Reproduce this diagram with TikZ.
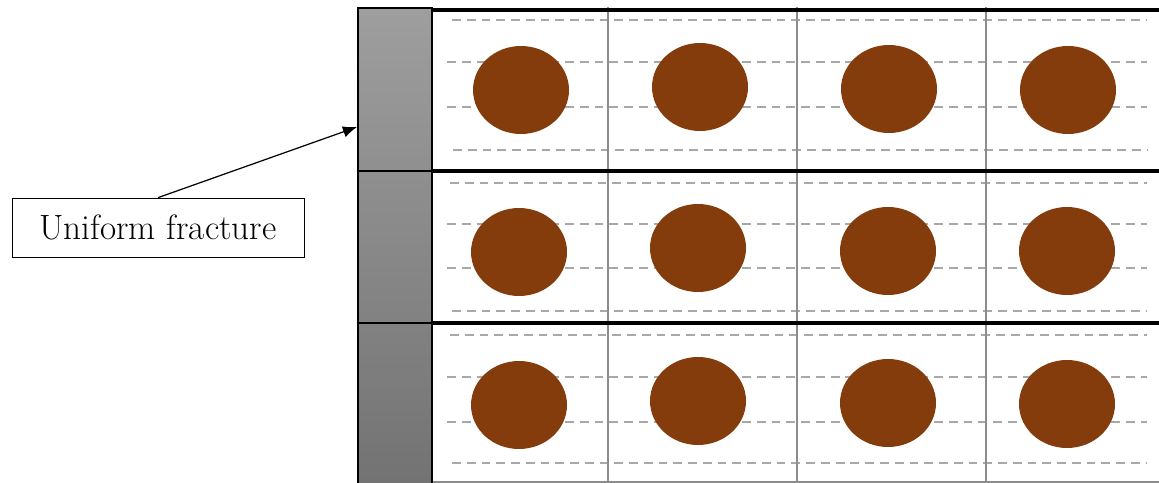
\documentclass[tikz,border=0pt]{standalone}
\usepackage{tikz}
\usetikzlibrary{arrows.meta, positioning}
\definecolor{rockbrown}{HTML}{843C0C}
\definecolor{hatchgray}{HTML}{A8A8A8}
\definecolor{gridgray}{HTML}{8C8C8C}
\tikzset{
    labelbox/.style={
        draw,
        minimum width=5.84cm,
        minimum height=1.18cm,
        align=center,
        font=\fontsize{20}{24}\selectfont
    },
    line/.style={-{Latex[length=8pt,width=6.5pt]}, line width=0.7pt},
    every node/.style={font=\small}
}

\begin{document}
\begin{tikzpicture}[
    x=0.02cm,y=0.02cm,
    mybar/.style={draw, line width=0.7pt},
    mylayer/.style={line width=2.3pt},
    mygrid/.style={draw=gridgray, line width=1.1pt},
    myhatch/.style={draw=hatchgray, line width=1.1pt, dash pattern=on 5pt off 3.4pt},
    mygrain/.style={fill=rockbrown}
]
\useasboundingbox (0,0) rectangle (1159,483);

% fracture wall
\shade[top color=black!38, bottom color=black!55] (358,0) rectangle (432,475);
\draw[mybar] (358,0) -- (358,475) -- (432,475) -- (432,0);
\draw[mybar] (358,312) -- (432,312);
\draw[mybar] (358,160) -- (432,160);

% dashed lines, top layer
\draw[myhatch] (452,463) -- (1147,463);
\draw[myhatch] (447,421) -- (1147,421);
\draw[myhatch] (447,376) -- (1147,376);
\draw[myhatch] (453,333) -- (1147,333);

% dashed lines, middle layer
\draw[myhatch] (450,300) -- (1147,300);
\draw[myhatch] (447,259) -- (1147,259);
\draw[myhatch] (447,215) -- (1147,215);
\draw[myhatch] (452,172) -- (1147,172);

% dashed lines, bottom layer
\draw[myhatch] (450,148) -- (1147,148);
\draw[myhatch] (447,106) -- (1147,106);
\draw[myhatch] (447,61) -- (1147,61);
\draw[myhatch] (452,20) -- (1147,20);

% grid columns
\draw[mygrid] (608,0) -- (608,476);
\draw[mygrid] (797,0) -- (797,476);
\draw[mygrid] (986,0) -- (986,476);
\draw[draw=gridgray, line width=0.8pt] (432,1) -- (1159,1);

% layer boundaries
\draw[mylayer] (432,473) -- (1159,473);
\draw[mylayer] (432,312) -- (1159,312);
\draw[mylayer] (432,160) -- (1159,160);
\draw[line width=1.2pt] (432,0) -- (432,474);

% grains, top layer
\fill[mygrain] (521,393) ellipse (48 and 44);
\fill[mygrain] (700,396) ellipse (48 and 44);
\fill[mygrain] (889,394) ellipse (48 and 44);
\fill[mygrain] (1068,393) ellipse (48 and 44);

% grains, middle layer
\fill[mygrain] (519,231) ellipse (48 and 44);
\fill[mygrain] (698,235) ellipse (48 and 44);
\fill[mygrain] (888,232) ellipse (48 and 44);
\fill[mygrain] (1067,232) ellipse (48 and 44);

% grains, bottom layer
\fill[mygrain] (519,78) ellipse (48 and 44);
\fill[mygrain] (698,82) ellipse (48 and 44);
\fill[mygrain] (888,80) ellipse (48 and 44);
\fill[mygrain] (1067,79) ellipse (48 and 44);

% label
\node[labelbox] (fracture) at (158,255.5) {Uniform fracture};
\coordinate (wall) at (357,356);
\draw[line] (fracture.north) -- (wall);

\end{tikzpicture}
\end{document}
